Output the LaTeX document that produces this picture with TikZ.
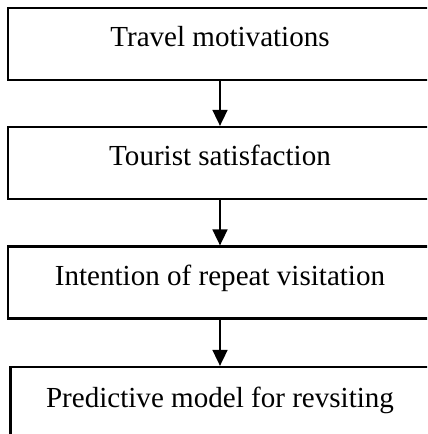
\documentclass[tikz,border=0pt]{standalone}
\usepackage{fontspec}
\setmainfont{Liberation Serif}
\usetikzlibrary{arrows.meta, positioning}

\tikzset{
  stagebox/.style={draw, line width=1.7pt, minimum width=314.25pt, minimum height=54pt,
    inner sep=0pt, text height=16pt, text depth=11.5pt, font=\fontsize{21.8}{25}\selectfont},
  flowarrow/.style={-{Triangle[length=12pt, width=11.25pt]}, line width=1.3pt}
}

\begin{document}
\begin{tikzpicture}[x=0.75pt, y=-0.75pt]
\useasboundingbox (0,0) rectangle (427,434);
\clip (0,0) rectangle (427,434);

% Stages of the model
\node[stagebox, minimum width=318pt] (motiv) at (220, 44) {Travel motivations};
\node[stagebox, minimum width=318pt] (satis) at (220, 163) {Tourist satisfaction};
\node[stagebox, minimum width=318pt] (intent) at (220, 282.5) {Intention of repeat visitation};
\node[stagebox, minimum height=55.5pt] (model) at (220, 404) {Predictive model for revsiting};

\draw[flowarrow] (motiv) -- (satis);
\draw[flowarrow] (satis) -- (intent);
\draw[flowarrow] (intent) -- (model);

\end{tikzpicture}
\end{document}
